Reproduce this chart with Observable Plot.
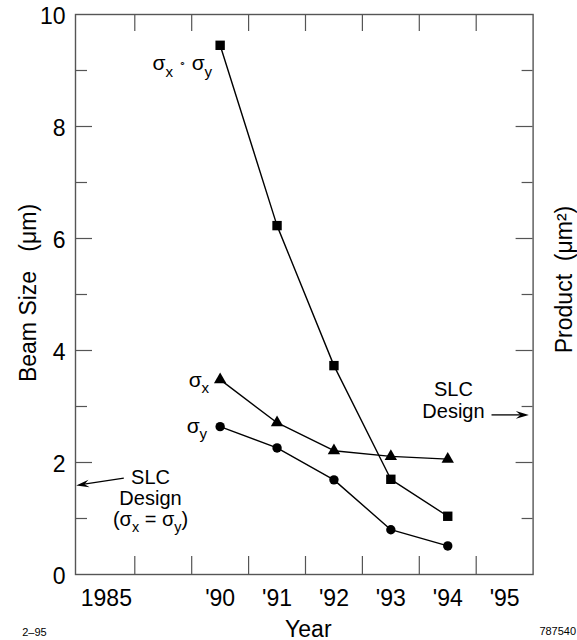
<!DOCTYPE html>
<html>
<head>
<meta charset="utf-8">
<script src="https://cdn.jsdelivr.net/npm/d3@7"></script>
<script src="https://cdn.jsdelivr.net/npm/@observablehq/plot@0.6"></script>
<style>
  html, body { margin: 0; padding: 0; background: #fff; }
  svg { display: block; }
</style>
</head>
<body>
<div id="chart"></div>
<script>
// ---- data ----
const xLabels = ["1985", "", "'90", "'91", "'92", "'93", "'94", "'95"];
const years = ["'90", "'91", "'92", "'93", "'94"];
const product = [9.45, 6.23, 3.73, 1.70, 1.04];   // σx·σy (μm²)
const sigmaX = [3.48, 2.71, 2.21, 2.11, 2.06];    // μm
const sigmaY = [2.64, 2.26, 1.69, 0.80, 0.51];    // μm
const yTickLabels = [0, 2, 4, 6, 8, 10];
const yMajor = [2, 4, 6, 8];
const yMinor = [1, 3, 5, 7, 9];
const slcDesignProduct = 2.85;
const slcDesignBeam = 1.59;
const labelProduct = "σ_x ∘ σ_y";
const labelSx = "σ_x";
const labelSy = "σ_y";
const noteRight = "SLC\nDesign";
const noteLeft = "SLC\nDesign\n(σ_x = σ_y)";

// ---- layout ----
const W = 577, H = 640, mL = 75, mR = 44.4, mT = 14, mB = 66;
const frameW = W - mL - mR, frameH = H - mT - mB;
const FONT = "Liberation Sans, Arial, Helvetica, sans-serif";
const GRAY = "#555";

const xi = y => xLabels.indexOf(y);
const rows = years.map((yr, i) => ({x: xi(yr), product: product[i], sx: sigmaX[i], sy: sigmaY[i]}));
const xBounds = xLabels.slice(1).map((_, i) => i + 0.5);
const xTickIdx = xLabels.map((l, i) => l ? i : null).filter(v => v != null);

function headSymbol(ux, uy) {
  const L = 13, Wd = 3.8, n = [-uy, ux];
  return {
    draw(ctx) {
      ctx.moveTo(0, 0);
      ctx.lineTo(-L * ux + Wd * n[0], -L * uy + Wd * n[1]);
      ctx.lineTo(-0.65 * L * ux, -0.65 * L * uy);
      ctx.lineTo(-L * ux - Wd * n[0], -L * uy - Wd * n[1]);
      ctx.closePath();
    }
  };
}
const dl = Math.hypot(-47.6, 7.3);
const headRight = headSymbol(1, 0);
const headLeft = headSymbol(-47.6 / dl, 7.3 / dl);

const chart = Plot.plot({
  width: W, height: H,
  marginLeft: mL, marginRight: mR, marginTop: mT, marginBottom: mB,
  style: {fontFamily: FONT, background: "#fff", color: "#000"},
  x: {type: "linear", domain: [-0.542, 7.5]},
  y: {type: "linear", domain: [0, 10]},
  marks: [
    Plot.frame({stroke: GRAY, strokeWidth: 1.4}),
    // inward ticks
    Plot.ruleX(xBounds, {x: d => d, insetTop: frameH - 18, stroke: GRAY, strokeWidth: 1.2}),
    Plot.ruleX(xBounds, {x: d => d, insetBottom: frameH - 17, stroke: GRAY, strokeWidth: 1.2}),
    Plot.ruleY(yMajor, {y: d => d, insetRight: frameW - 17, stroke: GRAY, strokeWidth: 1.2}),
    Plot.ruleY(yMinor, {y: d => d, insetRight: frameW - 12, stroke: GRAY, strokeWidth: 1.2}),
    Plot.ruleY(yMajor, {y: d => d, insetLeft: frameW - 17, stroke: GRAY, strokeWidth: 1.2}),
    Plot.ruleY(yMinor, {y: d => d, insetLeft: frameW - 11, stroke: GRAY, strokeWidth: 1.2}),
    // axes labels
    Plot.axisX({ticks: xTickIdx, tickFormat: i => xLabels[i], tickSize: 0, tickPadding: 15, fontSize: 23, label: null}),
    Plot.axisY({ticks: yTickLabels, tickSize: 0, tickPadding: 10, fontSize: 23, label: null, dy: 2}),
    Plot.text(["Beam Size\u00a0\u00a0\u00a0(μm)"], {text: d => d, frameAnchor: "left", textAnchor: "middle", rotate: -90, lineAnchor: "bottom", dx: -40, dy: -1.5, fontSize: 23}),
    Plot.text(["Product\u00a0\u00a0(μm²)"], {text: d => d, frameAnchor: "right", textAnchor: "middle", rotate: -90, lineAnchor: "bottom", dx: 38.4, dy: -15, fontSize: 23}),
    Plot.text(["Year"], {text: d => d, frameAnchor: "bottom", textAnchor: "middle", lineAnchor: "bottom", dx: 4, dy: 62, fontSize: 23}),
    Plot.text(["2–95"], {text: d => d, frameAnchor: "bottom-left", textAnchor: "start", lineAnchor: "bottom", dx: -53.3, dy: 61, fontSize: 11}),
    Plot.text(["787540"], {text: d => d, frameAnchor: "bottom-right", textAnchor: "end", lineAnchor: "bottom", dx: 43, dy: 60, fontSize: 11}),
    // series
    Plot.line(rows, {x: "x", y: "product", stroke: "black", strokeWidth: 1.4}),
    Plot.line(rows, {x: "x", y: "sx", stroke: "black", strokeWidth: 1.4}),
    Plot.line(rows, {x: "x", y: "sy", stroke: "black", strokeWidth: 1.4}),
    Plot.dot(rows, {x: "x", y: "product", symbol: "square", r: 5.3, fill: "black", stroke: "none"}),
    Plot.dot(rows, {x: "x", y: "sx", symbol: "triangle", r: 4.6, fill: "black", stroke: "none"}),
    Plot.dot(rows, {x: "x", y: "sy", symbol: "circle", r: 4.7, fill: "black", stroke: "none"}),
    // series labels
    Plot.text([labelProduct], {text: d => d, x: rows[0].x, y: rows[0].product, textAnchor: "end", lineAnchor: "bottom", dx: -8, dy: 25, fontSize: 21}),
    Plot.text([labelSx], {text: d => d, x: rows[0].x, y: rows[0].sx, textAnchor: "end", lineAnchor: "bottom", dx: -11, dy: 7, fontSize: 21}),
    Plot.text([labelSy], {text: d => d, x: rows[0].x, y: rows[0].sy, textAnchor: "end", lineAnchor: "bottom", dx: -13, dy: 6, fontSize: 21}),
    // SLC design notes and arrows
    Plot.text([noteRight], {text: d => d, x: 6.1, y: 2.79, lineAnchor: "bottom", lineHeight: 1.1, fontSize: 20}),
    Plot.link([0], {x1: 6.769, y1: slcDesignProduct, x2: 7.3, y2: slcDesignProduct, stroke: "black", strokeWidth: 1.3}),
    Plot.dot([0], {x: 7.425, y: slcDesignProduct, symbol: headRight, fill: "black", stroke: "none"}),
    Plot.text([noteLeft], {text: d => d, x: 0.776, y: 0.875, lineAnchor: "bottom", lineHeight: 1.05, fontSize: 20}),
    Plot.link([0], {x1: 0.307, y1: 1.72, x2: -0.42, y2: 1.61, stroke: "black", strokeWidth: 1.3}),
    Plot.dot([0], {x: -0.53, y: slcDesignBeam, symbol: headLeft, fill: "black", stroke: "none"})
  ]
});

document.getElementById("chart").appendChild(chart);

// subscripts: "_c" -> subscript c ; "∘" -> tiny ring
const NS = "http://www.w3.org/2000/svg";
chart.querySelectorAll("text").forEach(t => {
  const spans = t.querySelectorAll("tspan");
  const targets = spans.length ? [...spans] : [t];
  targets.forEach(el => {
    const s = el.textContent;
    if (!s.includes("_")) return;
    const base = parseFloat(getComputedStyle(el).fontSize) || 20;
    const sub = (base * 0.72).toFixed(1), off = base * 0.3;
    el.textContent = "";
    let shift = 0;
    s.split(/(_.|∘)/).forEach(p => {
      if (!p) return;
      const ts = document.createElementNS(NS, "tspan");
      if (p[0] === "_") {
        ts.textContent = p[1];
        ts.setAttribute("font-size", sub);
        ts.setAttribute("dy", (off - shift).toFixed(1));
        shift = off;
      } else if (p === "∘") {
        ts.textContent = "∘";
        ts.setAttribute("font-size", (base * 0.5).toFixed(1));
        ts.setAttribute("dy", (-3 - shift).toFixed(1));
        shift = -3;
      } else {
        ts.textContent = p;
        if (shift) { ts.setAttribute("dy", (-shift).toFixed(1)); shift = 0; }
      }
      el.appendChild(ts);
    });
  });
});
</script>
</body>
</html>
